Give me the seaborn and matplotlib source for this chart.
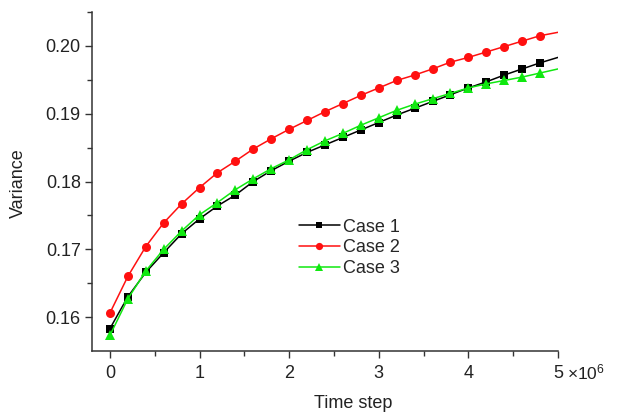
import matplotlib
matplotlib.use("Agg")
import matplotlib.pyplot as plt
import seaborn as sns
import numpy as np
import pandas as pd
from matplotlib.ticker import FixedLocator
from matplotlib.lines import Line2D

# Time steps (in units of 1e6)
time_steps = [0.0, 0.2, 0.4, 0.6, 0.8, 1.0, 1.2, 1.4, 1.6, 1.8, 2.0, 2.2, 2.4,
              2.6, 2.8, 3.0, 3.2, 3.4, 3.6, 3.8, 4.0, 4.2, 4.4, 4.6, 4.8, 5.0]

case1 = [0.1583, 0.1630, 0.1666, 0.1695, 0.1723, 0.1745, 0.1764, 0.1780, 0.1800,
         0.1816, 0.1830, 0.1843, 0.1854, 0.1865, 0.1876, 0.1887, 0.1898, 0.1908,
         0.1918, 0.1928, 0.1938, 0.1947, 0.1957, 0.1966, 0.1975, 0.1983]
case2 = [0.1606, 0.1660, 0.1704, 0.1739, 0.1767, 0.1791, 0.1813, 0.1830, 0.1848,
         0.1863, 0.1877, 0.1890, 0.1903, 0.1915, 0.1927, 0.1938, 0.1949, 0.1957,
         0.1966, 0.1976, 0.1983, 0.1991, 0.1999, 0.2007, 0.2015, 0.2020]
case3 = [0.1573, 0.1627, 0.1668, 0.1700, 0.1727, 0.1751, 0.1769, 0.1788, 0.1804,
         0.1819, 0.1832, 0.1847, 0.1860, 0.1871, 0.1883, 0.1894, 0.1905, 0.1914,
         0.1922, 0.1930, 0.1938, 0.1944, 0.1949, 0.1954, 0.1960, 0.1966]

labels = ["Case 1", "Case 2", "Case 3"]
colors = ["#000000", "#ff1010", "#10e810"]
markers = ["s", "o", "^"]
msizes = [5.5, 6.5, 6.5]

sns.set_style("ticks")
plt.rcParams["font.family"] = ["Liberation Sans", "DejaVu Sans"]

fig = plt.figure(figsize=(6.24, 4.13), dpi=100)
ax = fig.add_axes([0.1474, 0.150, 0.7468, 0.821])

handles = []
for ys, lab, c, m, ms in zip([case1, case2, case3], labels, colors, markers, msizes):
    df = pd.DataFrame({"t": time_steps, "v": ys})
    sns.lineplot(data=df, x="t", y="v", ax=ax, color=c, marker=m, markersize=ms,
                 markeredgewidth=0, linewidth=1.1, markevery=slice(0, len(ys) - 1),
                 legend=False)
    handles.append(Line2D([0], [0], color=c, marker=m, markersize=ms * 0.8,
                          markeredgewidth=0, linewidth=1.1, label=lab))

ax.set_xlim(-0.2, 5.0)
ax.set_ylim(0.155, 0.205)
ax.xaxis.set_major_locator(FixedLocator([0, 1, 2, 3, 4, 5]))
ax.xaxis.set_minor_locator(FixedLocator([0.5, 1.5, 2.5, 3.5, 4.5]))
ax.yaxis.set_major_locator(FixedLocator([0.16, 0.17, 0.18, 0.19, 0.20]))
ax.yaxis.set_minor_locator(FixedLocator([0.165, 0.175, 0.185, 0.195, 0.205]))
ax.set_xticklabels(["0", "1", "2", "3", "4", "5"])
ax.set_yticklabels(["0.16", "0.17", "0.18", "0.19", "0.20"])

ax.tick_params(axis="both", which="major", direction="out", length=5, width=1,
               labelsize=13, color="#333333", labelcolor="#222222")
ax.tick_params(axis="both", which="minor", direction="out", length=3.5, width=1,
               color="#333333")
ax.tick_params(axis="x", pad=5)
ax.tick_params(axis="y", pad=3)

for s in ["top", "right"]:
    ax.spines[s].set_visible(False)
for s in ["left", "bottom"]:
    ax.spines[s].set_linewidth(1.1)
    ax.spines[s].set_color("#333333")

ax.set_xlabel("")
ax.set_ylabel("")
fig.text(18 / 624, 1 - 183 / 413, "Variance", rotation=90, ha="center", va="center",
         fontsize=13, color="#222222")
fig.text(353 / 624, 1 - 403 / 413, "Time step", ha="center", va="center",
         fontsize=13, color="#222222")
fig.text(567 / 624, 1 - 372 / 413, r"$\mathregular{\times10^6}$", ha="left", va="center",
         fontsize=12.5, color="#222222")

leg = ax.legend(handles=handles, loc="upper left", bbox_to_anchor=(0.444, 0.39),
                frameon=False, fontsize=13, handlelength=2.25, handletextpad=0.2,
                labelspacing=0.2, borderaxespad=0, borderpad=0)

fig.savefig("out.png", dpi=100)
